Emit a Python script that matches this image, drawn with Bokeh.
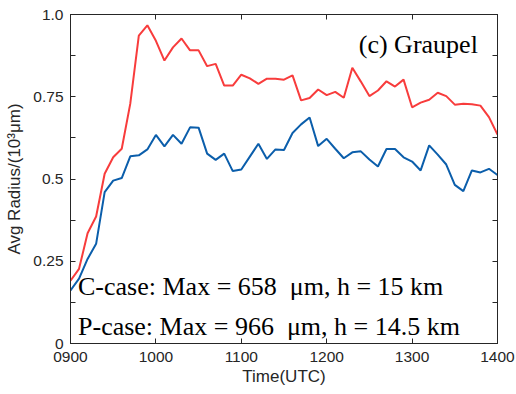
from bokeh.plotting import figure
from bokeh.models import Range1d, FixedTicker, LinearAxis, Label
from bokeh.embed import file_html
from bokeh.resources import INLINE

# time grid: every 6 minutes from 0900 to 1400 (in hours)
times = [9 + 6 * i / 60 for i in range(51)]

p_case = [0.191, 0.227, 0.335, 0.386, 0.516, 0.566, 0.592, 0.729, 0.936, 0.967,
          0.920, 0.860, 0.900, 0.927, 0.891, 0.891, 0.843, 0.850, 0.784, 0.784,
          0.817, 0.806, 0.789, 0.805, 0.805, 0.802, 0.815, 0.739, 0.746, 0.772,
          0.755, 0.765, 0.747, 0.838, 0.796, 0.752, 0.769, 0.797, 0.781, 0.802,
          0.718, 0.732, 0.741, 0.762, 0.752, 0.726, 0.729, 0.727, 0.723, 0.688,
          0.635]

c_case = [0.161, 0.197, 0.257, 0.303, 0.460, 0.495, 0.503, 0.569, 0.572, 0.590,
          0.634, 0.599, 0.634, 0.607, 0.657, 0.656, 0.577, 0.558, 0.577, 0.524,
          0.529, 0.568, 0.607, 0.561, 0.590, 0.588, 0.640, 0.666, 0.687, 0.600,
          0.622, 0.592, 0.563, 0.581, 0.584, 0.559, 0.538, 0.591, 0.591, 0.566,
          0.553, 0.526, 0.602, 0.574, 0.544, 0.482, 0.463, 0.526, 0.520, 0.531,
          0.512]

x_ticks = [9, 10, 11, 12, 13, 14]
x_labels = ["0900", "1000", "1100", "1200", "1300", "1400"]
y_ticks = [0, 0.125, 0.25, 0.375, 0.5, 0.625, 0.75, 0.875, 1.0]
y_labels = ["0", "", "0.25", "", "0.5", "", "0.75", "", "1.0"]

title_text = "(c) Graupel"
c_text = "C-case: Max = 658\u00a0 \u03bcm, h = 15 km"
p_text = "P-case: Max = 966\u00a0 \u03bcm, h = 14.5 km"

AX = "#262626"

p = figure(width=516, height=394, output_backend="svg", toolbar_location=None,
           x_range=Range1d(9, 14), y_range=Range1d(0, 1),
           min_border_left=70, min_border_right=19, min_border_top=14,
           min_border_bottom=51)
p.background_fill_color = "white"
p.border_fill_color = "white"
p.outline_line_color = AX
p.outline_line_width = 1
p.xgrid.visible = False
p.ygrid.visible = False

p.line(times, p_case, line_color="#f83c3c", line_width=2)
p.line(times, c_case, line_color="#0b5eab", line_width=2)


def style(ax, ticks, labels, show_labels=True):
    ax.ticker = FixedTicker(ticks=ticks)
    ax.major_label_overrides = {t: (l if show_labels else "") for t, l in zip(ticks, labels)}
    ax.major_tick_in = 5
    ax.major_tick_out = 0
    ax.minor_tick_in = 0
    ax.minor_tick_out = 0
    ax.axis_line_color = AX
    ax.major_tick_line_color = AX
    ax.major_label_text_color = AX
    ax.major_label_text_font = "Liberation Sans"
    ax.major_label_text_font_size = "15.5px" if show_labels else "0px"
    ax.axis_label_text_font = "Liberation Sans"
    ax.axis_label_text_font_size = "17px"
    ax.axis_label_text_font_style = "normal"
    ax.axis_label_text_color = AX


style(p.xaxis[0], x_ticks, x_labels)
p.xaxis[0].axis_label = "Time(UTC)"
p.xaxis[0].major_label_standoff = 8
p.xaxis[0].axis_label_standoff = 2

style(p.yaxis[0], y_ticks, y_labels)
p.yaxis[0].axis_label = "Avg Radius/(10\u00b3\u03bcm)"
p.yaxis[0].major_label_standoff = 7
p.yaxis[0].axis_label_standoff = 6

top = LinearAxis()
style(top, x_ticks, x_labels, show_labels=False)
p.add_layout(top, "above")
right = LinearAxis()
style(right, y_ticks, y_labels, show_labels=False)
p.add_layout(right, "right")

p.add_layout(Label(x=13.77, y=0.909, text=title_text, text_align="right",
                   text_baseline="alphabetic", text_font="Liberation Serif",
                   text_font_size="26px", text_color="black"))
p.add_layout(Label(x=9.088, y=0.173, text=c_text, text_align="left",
                   text_baseline="alphabetic", text_font="Liberation Serif",
                   text_font_size="26px", text_color="black"))
p.add_layout(Label(x=9.088, y=0.051, text=p_text, text_align="left",
                   text_baseline="alphabetic", text_font="Liberation Serif",
                   text_font_size="26px", text_color="black"))

open("out.html", "w").write(file_html(p, INLINE))
